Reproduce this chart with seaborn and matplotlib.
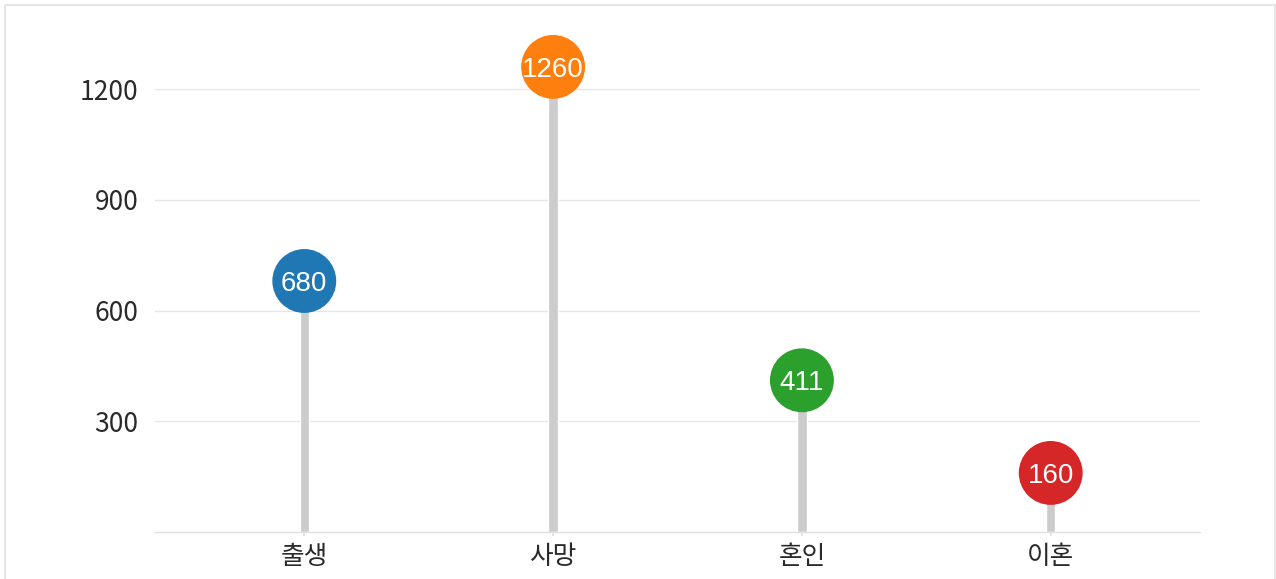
import matplotlib
matplotlib.use("Agg")
import matplotlib.pyplot as plt
import seaborn as sns
import pandas as pd
from matplotlib.patches import Rectangle

categories = ["출생", "사망", "혼인", "이혼"]
values = [680, 1260, 411, 160]
colors = ["#1f77b4", "#ff7f0e", "#2ca02c", "#d62728"]
yticks = [300, 600, 900, 1200]

sns.set_theme(style="white")
plt.rcParams['font.family'] = ['Noto Sans CJK KR', 'DejaVu Sans']

df = pd.DataFrame({"cat": categories, "val": values})

fig = plt.figure(figsize=(12.76, 5.79), dpi=100)
ax = fig.add_axes([155/1276, (579-532)/579, (1200-155)/1276, (532-30)/579])

sns.barplot(data=df, x="cat", y="val", color="#cccccc", width=0.038,
            saturation=1, ax=ax, zorder=2)
sns.scatterplot(data=df, x="cat", y="val", hue="cat", palette=colors,
                s=46**2, linewidth=0, legend=False, ax=ax, zorder=3)

for i, v in enumerate(values):
    ax.text(i, v, str(v), ha="center", va="center_baseline", color="white",
            fontsize=20, family="Liberation Sans", zorder=4)

ax.set_xlim(-0.6, 3.6)
ax.set_ylim(0, 1360)
ax.set_yticks(yticks)
ax.set_yticklabels([str(t) for t in yticks])
ax.yaxis.grid(True, color="#e6e6e6", linewidth=1)
ax.set_axisbelow(True)
ax.set_xlabel("")
ax.set_ylabel("")
for s in ["top", "right", "left"]:
    ax.spines[s].set_visible(False)
ax.spines["bottom"].set_color("#e0e0e0")
ax.spines["bottom"].set_linewidth(1)
ax.tick_params(axis="y", length=0, pad=12, labelsize=19, labelcolor="#2a2a2a")
ax.tick_params(axis="x", length=3, color="#e0e0e0", pad=6, labelsize=18.5,
               labelcolor="#2a2a2a", bottom=True)

fig.patches.append(Rectangle((5/1276, -0.1), (1275-5)/1276, 1.1 - 5/579,
                             transform=fig.transFigure, fill=False,
                             edgecolor="#e6e6e6", linewidth=1.5))

fig.savefig("out.png", dpi=100)
